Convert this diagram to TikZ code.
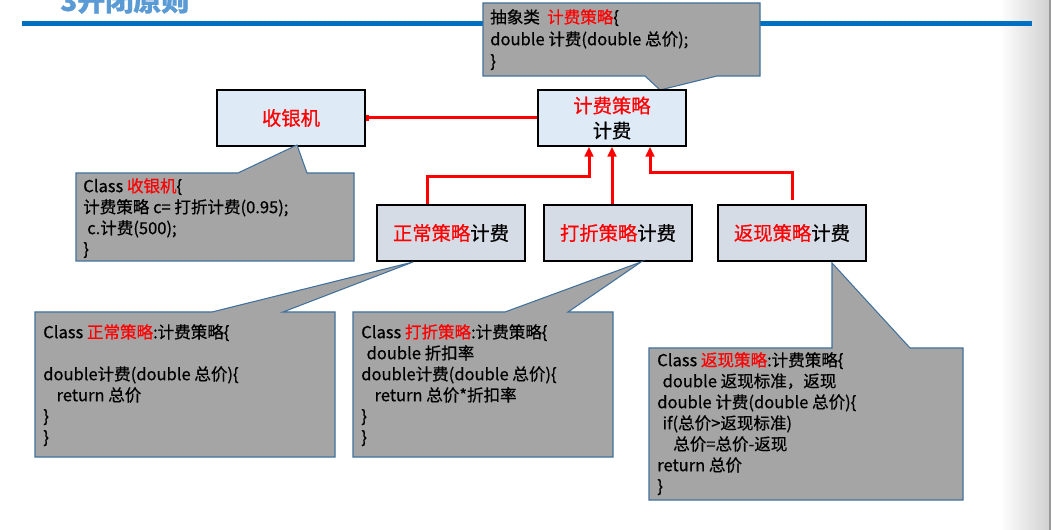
\documentclass[tikz,border=0pt]{standalone}
\usepackage{fontspec}
\setmainfont{Noto Sans CJK SC}[FakeBold=0.6]
\usetikzlibrary{arrows.meta,calc}
\definecolor{calloutfill}{HTML}{A5A5A5}
\definecolor{calloutline}{HTML}{41719C}
\definecolor{topbox}{HTML}{DEEBF7}
\definecolor{subbox}{HTML}{D6DCE5}
\definecolor{titleblue}{HTML}{5B9BD5}
\definecolor{rulerblue}{HTML}{0070C0}
\definecolor{cred}{HTML}{FF0000}
\newcommand\redtxt[1]{\textcolor{cred}{#1}}
\begin{document}
\begin{tikzpicture}[x=0.75pt,y=-0.75pt,
 classbox/.style={draw=black, line width=1.1pt, minimum width=111pt, minimum height=42pt, inner sep=0pt, align=center, font=\fontsize{14.5pt}{18.75pt}\selectfont},
 callout/.style={fill=calloutfill, draw=calloutline, line width=0.8pt, line join=miter},
 code/.style={anchor=north west, inner sep=0pt, align=left, font=\fontsize{12.4pt}{15.75pt}\selectfont},
 link/.style={draw=cred, line width=2.25pt, -{Triangle[length=7.5pt,width=6.5pt]}},
 assoc/.style={draw=cred, line width=2.25pt, -{Rectangle[length=2.2pt,width=5.2pt]}},
]
\useasboundingbox (0,0) rectangle (1052,530);
\clip (0,0) rectangle (1052,530);
\fill[white] (0,0) rectangle (1052,530);
\shade[left color=white, right color=black!18] (1000,0) rectangle (1049,530);
\fill[black!40] (1049,0) rectangle (1051,530);
% title and ruler
\node[anchor=base west, inner sep=0pt, text=titleblue, font=\fontsize{21pt}{21pt}\selectfont\bfseries] (title) at (60,11) {3开闭原则};
\fill[rulerblue] (22,21) rectangle (1032,26.5);

% top callout
\draw[callout] (483,3) -- (760,3) -- (760,76) -- (717,76) -- (660,90) -- (645,76) -- (483,76) -- cycle;
\node[code, font=\fontsize{12.4pt}{16.5pt}\selectfont] (topnote) at (490,9) {抽象类\ \ \redtxt{计费策略}\{\\double 计费(double 总价);\\\}};

% class boxes
\node[classbox, fill=topbox] (sy) at (291,118) {\redtxt{收银机}};
\node[classbox, fill=topbox] (jf) at (612,118) {\redtxt{计费策略}\\计费};
\node[classbox, fill=subbox] (zc) at (451,233) {\redtxt{正常策略}计费};
\node[classbox, fill=subbox] (dz) at (618,233) {\redtxt{打折策略}计费};
\node[classbox, fill=subbox] (fx) at (792,233) {\redtxt{返现策略}计费};

% connectors
\draw[assoc] (jf.west) -- (sy.east);
\draw[link] ([xshift=-18pt]zc.north) -- ++(0,-28) -| ([xshift=-17.25pt]jf.south);
\draw[link] (jf.south |- dz.north) -- (jf.south);
\draw[link] ([yshift=3pt]fx.north) -- ++(0,-28) -| ([xshift=28.5pt]jf.south);

% callout for 收银机
\draw[callout] (76,173) -- (238,173) -- (297,145) -- (307,173) -- (354,173) -- (354,261) -- (76,261) -- cycle;
\node[code] (synote) at (83,178) {Class \redtxt{收银机}\{\\计费策略 c= 打折计费(0.95);\\\hspace*{3pt}c.计费(500);\\\}};

% callout for 正常策略
\draw[callout] (35,312) -- (212,312) -- (413,262) -- (283,312) -- (335,312) -- (335,457) -- (35,457) -- cycle;
\node[code] (zcnote) at (43,324) {Class \redtxt{正常策略}:计费策略\{\\\mbox{}\\double计费(double 总价)\{\\\hspace*{10pt}return 总价\\\}\\\}};

% callout for 打折策略
\draw[callout] (353,312) -- (505,312) -- (641,262) -- (568,312) -- (613,312) -- (613,457) -- (353,457) -- cycle;
\node[code] (dznote) at (361,324) {Class \redtxt{打折策略}:计费策略\{\\\hspace*{4pt}double 折扣率\\double计费(double 总价)\{\\\hspace*{10pt}return 总价*折扣率\\\}\\\}};

% callout for 返现策略
\draw[callout] (649,348) -- (832,348) -- (832,263) -- (910,348) -- (963,348) -- (963,500) -- (649,500) -- cycle;
\node[code] (fxnote) at (657,352) {Class \redtxt{返现策略}:计费策略\{\\\hspace*{4pt}double 返现标准，返现\\double 计费(double 总价)\{\\\hspace*{4pt}if(总价>返现标准)\\\hspace*{12pt}总价=总价-返现\\return 总价\\\}};
\end{tikzpicture}
\end{document}
